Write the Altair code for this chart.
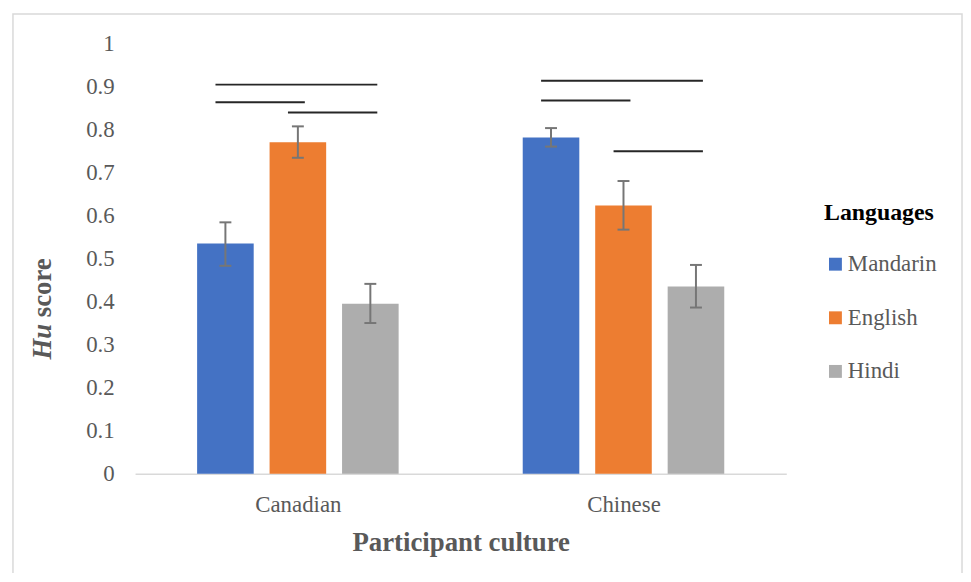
import altair as alt
import pandas as pd

# ---------------- data ----------------
cultures = ["Canadian", "Chinese"]
languages = ["Mandarin", "English", "Hindi"]
colors = ["#4472C4", "#ED7D31", "#ADADAD"]

canadian_means = [0.535, 0.770, 0.395]
chinese_means = [0.781, 0.623, 0.435]
canadian_low = [0.483, 0.734, 0.350]
canadian_high = [0.584, 0.807, 0.441]
chinese_low = [0.760, 0.567, 0.386]
chinese_high = [0.803, 0.680, 0.485]

sig_culture = ["Canadian", "Canadian", "Canadian", "Chinese", "Chinese", "Chinese"]
sig_from = ["Mandarin", "Mandarin", "English", "Mandarin", "Mandarin", "English"]
sig_to = ["Hindi", "English", "Hindi", "Hindi", "English", "Hindi"]
sig_level = [0.904, 0.863, 0.839, 0.913, 0.867, 0.749]

y_ticks = [0, 0.1, 0.2, 0.3, 0.4, 0.5, 0.6, 0.7, 0.8, 0.9, 1]

# ---------------- layout constants ----------------
PLOT_W = 656
PLOT_H = 433.5
BAND = PLOT_W / len(cultures)          # px per culture group
BAR_STEP = 73 / BAND                    # distance between bar centres (data units)
BAR_HALF = 28.5 / BAND
CAP_HALF = 6 / BAND
SIG_LEFT = 10 / BAND
SIG_RIGHT = 7 / BAND
FONT = "Liberation Serif, Times New Roman, Times, serif"
GREY_TXT = "#595959"

means = [canadian_means, chinese_means]
lows = [canadian_low, chinese_low]
highs = [canadian_high, chinese_high]

rows = []
for ci, c in enumerate(cultures):
    for li, lang in enumerate(languages):
        pos = ci + 0.5 + (li - 1) * BAR_STEP
        rows.append({
            "culture": c, "language": lang, "mean": means[ci][li],
            "lo": lows[ci][li], "hi": highs[ci][li],
            "pos": pos, "x0": pos - BAR_HALF, "x1": pos + BAR_HALF,
            "capL": pos - CAP_HALF, "capR": pos + CAP_HALF,
        })
df = pd.DataFrame(rows)


def centre(c, lang):
    return cultures.index(c) + 0.5 + (languages.index(lang) - 1) * BAR_STEP


sig = pd.DataFrame({
    "culture": sig_culture, "from": sig_from, "to": sig_to, "level": sig_level,
})
sig["sx0"] = [centre(c, f) - SIG_LEFT for c, f in zip(sig_culture, sig_from)]
sig["sx1"] = [centre(c, t) + SIG_RIGHT for c, t in zip(sig_culture, sig_to)]

# ---------------- scales / axes ----------------
xscale = alt.Scale(domain=[0, len(cultures)], nice=False, zero=False)
yscale = alt.Scale(domain=[0, 1], nice=False)

label_list = "[" + ",".join(f"'{c}'" for c in cultures) + "]"
xaxis = alt.Axis(
    values=[i + 0.5 for i in range(len(cultures))],
    labelExpr=f"{label_list}[floor(datum.value)]",
    ticks=False, grid=False, domainColor="#D9D9D9", domainWidth=1.5,
    labelFont=FONT, labelFontSize=23, labelColor=GREY_TXT, labelPadding=20,
    titleFont=FONT, titleFontSize=27, titleFontWeight="bold",
    titleColor=GREY_TXT, titlePadding=13,
)
yaxis = alt.Axis(
    values=y_ticks, format=".1~f", ticks=False, grid=False, domain=False,
    labelFont=FONT, labelFontSize=23, labelColor=GREY_TXT, labelPadding=21,
)


def X(field):
    return alt.X(field, type="quantitative", scale=xscale, axis=xaxis,
                 title="Participant culture")


def Y(field):
    return alt.Y(field, type="quantitative", scale=yscale, axis=yaxis,
                 title=None)


base = alt.Chart(df)

bars = base.mark_bar().encode(
    x=X("x0"), x2="x1",
    y=Y("mean"), y2=alt.datum(0),
    color=alt.Color(
        "language:N",
        scale=alt.Scale(domain=languages, range=colors),
        legend=alt.Legend(
            title="Languages", orient="none", legendX=694, legendY=159,
            titleFont=FONT, titleFontSize=24, titleFontWeight="bold",
            titleColor="black", titlePadding=28,
            labelFont=FONT, labelFontSize=23, labelColor=GREY_TXT,
            labelOffset=1, symbolType="square", symbolSize=169,
            symbolStrokeWidth=0, rowPadding=30,
        ),
    ),
)

ERR = "#767676"
err_v = base.mark_rule(color=ERR, strokeWidth=2).encode(
    x=X("pos"), y=Y("lo"), y2="hi")
cap_lo = base.mark_rule(color=ERR, strokeWidth=2).encode(
    x=X("capL"), x2="capR", y=Y("lo"))
cap_hi = base.mark_rule(color=ERR, strokeWidth=2).encode(
    x=X("capL"), x2="capR", y=Y("hi"))

sig_lines = alt.Chart(sig).mark_rule(color="#262626", strokeWidth=2).encode(
    x=X("sx0"), x2="sx1", y=Y("level"))

one = pd.DataFrame({"k": [0]})
title_hu = alt.Chart(one).mark_text(
    text="Hu", angle=270, align="left", baseline="middle",
    font=FONT, fontSize=27, fontWeight="bold", fontStyle="italic",
    color=GREY_TXT,
).encode(x=alt.value(-93), y=alt.value(318.5))
title_score = alt.Chart(one).mark_text(
    text="score", angle=270, align="right", baseline="middle",
    font=FONT, fontSize=27, fontWeight="bold", color=GREY_TXT,
).encode(x=alt.value(-93), y=alt.value(216.5))

frame = alt.Chart(one).mark_rect(
    filled=False, stroke="#D9D9D9", strokeWidth=1.5,
).encode(x=alt.value(-123), x2=alt.value(833),
         y=alt.value(-29.5), y2=alt.value(560))

chart = alt.layer(
    frame, bars, err_v, cap_lo, cap_hi, sig_lines, title_hu, title_score,
).properties(
    width=PLOT_W, height=PLOT_H,
    padding={"left": 128, "top": 33.5, "right": 178, "bottom": 98},
    autosize=alt.AutoSizeParams(type="none"),
).configure_view(stroke=None)

chart.save("out.html", embed_options={"renderer": "svg", "actions": False})
